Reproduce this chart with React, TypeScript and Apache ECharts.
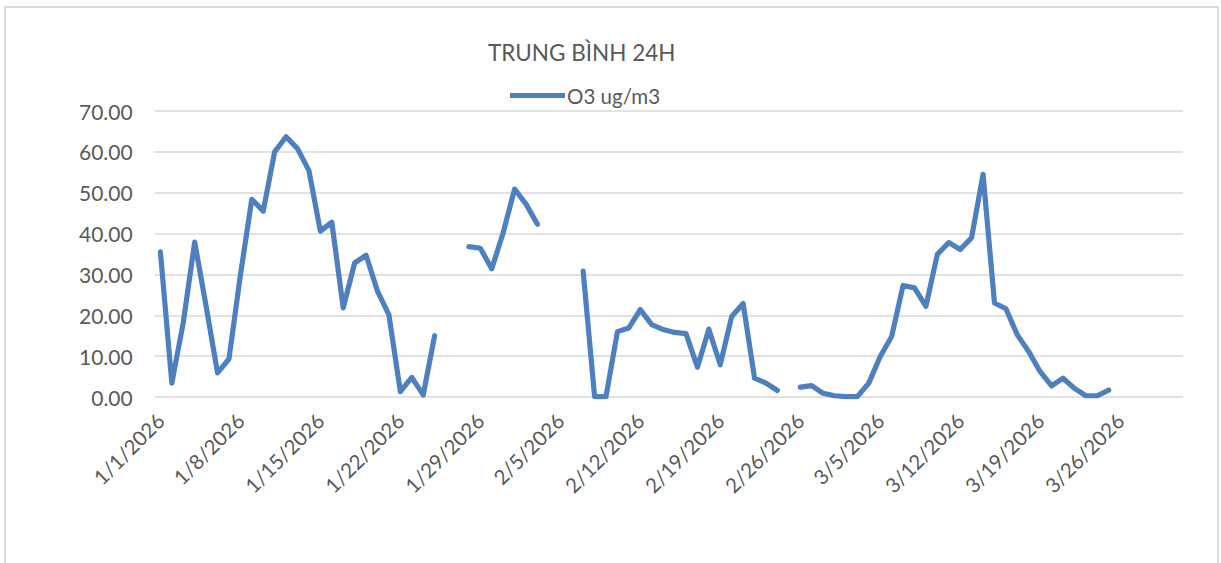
import React, { useEffect, useRef } from "react";
import * as echarts from "echarts";

const startYear = 2026;
const dayCount = 90;
const categories: string[] = [];
for (let i = 0; i < dayCount; i++) {
  const d = new Date(startYear, 0, 1 + i);
  categories.push(`${d.getMonth() + 1}/${d.getDate()}/${d.getFullYear()}`);
}

const o3Values: (number | null)[] = [
  35.5, 3.4, 18.2, 37.9, 22.2, 5.9, 9.3, 29.8, 48.4, 45.5,
  60.0, 63.7, 60.8, 55.4, 40.6, 42.8, 21.8, 32.8, 34.7, 25.9,
  20.1, 1.3, 4.8, 0.5, 15.0, null, null, 36.8, 36.4, 31.4,
  40.2, 50.9, 47.2, 42.3, null, null, null, 30.8, 0.1, 0.1,
  16.0, 16.9, 21.4, 17.7, 16.5, 15.8, 15.5, 7.3, 16.6, 7.9,
  19.7, 22.9, 4.6, 3.4, 1.6, null, 2.4, 2.8, 0.9, 0.3,
  0.1, 0.1, 3.4, 9.9, 14.8, 27.3, 26.7, 22.2, 34.9, 37.8,
  36.1, 39.0, 54.5, 23.0, 21.6, 15.2, 11.1, 6.2, 2.7, 4.6,
  2.1, 0.3, 0.3, 1.7, null, null, null, null, null, null,
];

const titleText = "TRUNG BÌNH 24H";
const seriesName = "O3 ug/m3";
const yMin = 0;
const yMax = 70;
const yStep = 10;

const FONT = "Lato, 'Noto Sans', sans-serif";
const TEXT_COLOR = "#595959";
const LINE_COLOR = "#4E7FBF";

export default function App() {
  const ref = useRef<HTMLDivElement>(null);
  useEffect(() => {
    if (!ref.current) return;
    const chart = echarts.init(ref.current, null, { renderer: "svg" });
    chart.setOption({
      animation: false,
      backgroundColor: "#ffffff",
      textStyle: { fontFamily: FONT },
      title: {
        text: titleText,
        left: 479,
        top: 30,
        textStyle: { fontFamily: FONT, fontSize: 22.5, fontWeight: "normal", color: TEXT_COLOR },
      },
      legend: {
        data: [seriesName],
        left: 501,
        top: 74,
        icon: "rect",
        itemWidth: 55,
        itemHeight: 5,
        itemGap: 10,
        textStyle: { fontFamily: FONT, fontSize: 20.5, color: TEXT_COLOR, padding: [0, 0, 0, -3] },
      },
      grid: { left: 150.7, right: 37, top: 105, bottom: 166, containLabel: false },
      xAxis: {
        type: "category",
        data: categories,
        boundaryGap: true,
        axisLine: { show: false },
        axisTick: { show: false },
        axisLabel: {
          interval: 6,
          rotate: 45,
          margin: 20,
          fontFamily: FONT,
          fontSize: 20.5,
          color: TEXT_COLOR,
        },
        splitLine: { show: false },
      },
      yAxis: {
        type: "value",
        min: yMin,
        max: yMax,
        interval: yStep,
        axisLine: { show: false },
        axisTick: { show: false },
        axisLabel: {
          formatter: (v: number) => v.toFixed(2),
          margin: 22,
          fontFamily: FONT,
          fontSize: 21,
          color: TEXT_COLOR,
        },
        splitLine: { lineStyle: { color: "#D9D9D9", width: 1.5 } },
      },
      series: [
        {
          name: seriesName,
          type: "line",
          data: o3Values,
          connectNulls: false,
          showSymbol: false,
          symbol: "none",
          lineStyle: { color: LINE_COLOR, width: 5.2, cap: "round", join: "round" },
          itemStyle: { color: LINE_COLOR },
        },
      ],
      graphic: [
        {
          type: "rect",
          shape: { x: 1, y: 1, width: 1213, height: 600 },
          style: { fill: "none", stroke: "#D9D9D9", lineWidth: 2 },
          silent: true,
        },
      ],
    });
    return () => chart.dispose();
  }, []);
  return (
    <div
      ref={ref}
      style={{ position: "absolute", left: 4, top: 6, width: 1216, height: 557 }}
    />
  );
}
